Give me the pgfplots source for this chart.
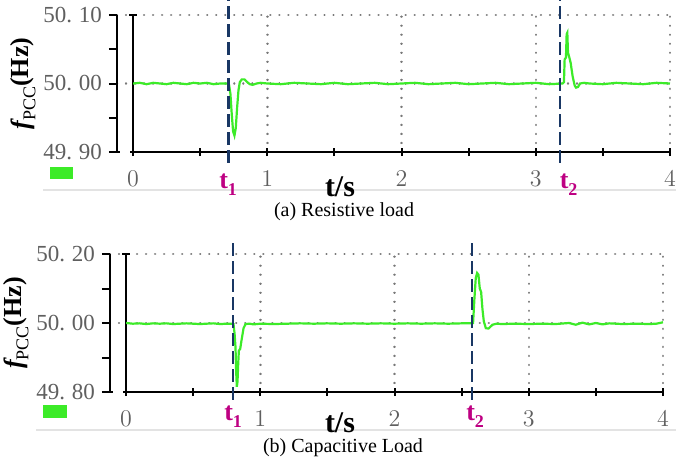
\documentclass[border=0pt]{standalone}
\usepackage{fontspec}
\setmainfont{Liberation Serif}
\usepackage{pgfplots}
\pgfplotsset{compat=1.18}
\definecolor{sig}{RGB}{60,235,40}
\definecolor{dashblue}{RGB}{25,55,100}
\definecolor{mag}{RGB}{190,0,130}
\definecolor{tickgray}{RGB}{95,95,95}
\definecolor{dotgray}{RGB}{120,120,120}
\newcommand{\yl}[2]{#1.\hspace{0.3em}#2}
\pgfplotsset{
  osc/.style={
    scale only axis, width=276.5pt, clip=false,
    xmin=-0.12, xmax=4,
    axis x line=bottom, axis y line=left,
    axis line style={-, black, line width=1pt},
    xtick={0,1,2,3,4}, minor xtick={0.5,1.5,2.5,3.5},
    xtick align=center, ytick align=outside,
    major tick length=4pt, minor tick length=4pt,
    every tick/.style={black, line width=1pt},
    xmajorgrids, ymajorgrids,
    major grid style={dotgray, line width=1.2pt, dash pattern=on 0.01pt off 4.5pt, line cap=round},
    tick label style={font=\fontsize{11.5}{12}\selectfont, text=tickgray},
    xticklabel style={yshift=-4pt},
    ylabel={\fontsize{13}{15}\selectfont\bfseries\itshape f\raisebox{-0.25em}{\upshape\mdseries\fontsize{9}{9}\selectfont PCC}\upshape(Hz)},
    every axis y label/.style={at={(axis description cs:-0.17,0.5)}, rotate=90, anchor=center},
    tline/.style={dashblue, line width=1.4pt, dash pattern=on 6.5pt off 2.5pt},
  }
}
\begin{document}
\begin{tikzpicture}
\path[use as bounding box] (0,0) rectangle (340.5pt,231pt);
% faint frame lines
\draw[gray!22, line width=0.6pt] (21.5pt,136pt) -- (338pt,136pt);
\draw[gray!22, line width=0.6pt] (18pt,16pt) -- (338pt,16pt);
% legend swatches
\fill[sig] (25pt,141.5pt) rectangle (36.5pt,147.5pt);
\fill[sig] (21.5pt,22pt) rectangle (33.5pt,28.5pt);

% ---------------- (a) ----------------
\begin{axis}[osc, at={(58.5pt,155pt)}, anchor=south west, height=68.5pt,
  ymin=49.9, ymax=50.1,
  ytick={49.9,50,50.1}, minor ytick={49.95,50.05},
  yticklabels={\yl{49}{90},\yl{50}{00},\yl{50}{10}}]
\addplot[black, line width=1.1pt] coordinates {(0,49.9) (0,50.1)};
\addplot[black, line width=1.1pt] coordinates {(-0.03,50.1) (0.03,50.1)};
\addplot[sig, line width=1.1pt] coordinates {
(0,50.000) (0.05,50.001) (0.10,49.999) (0.15,50.001) (0.20,50.000) (0.25,49.999)
(0.30,50.001) (0.35,50.000) (0.40,49.999) (0.45,50.001) (0.50,50.000) (0.55,50.001)
(0.60,49.999) (0.65,50.000) (0.70,50.000) (0.715,49.998) (0.725,49.985) (0.735,49.955)
(0.745,49.930) (0.755,49.924) (0.765,49.935) (0.775,49.965) (0.785,49.990) (0.795,50.002)
(0.81,50.006) (0.83,50.006) (0.85,50.002) (0.87,49.999) (0.89,49.998) (0.92,50.000)
(0.95,50.001) (1.0,50.000) (1.1,49.999) (1.2,50.001) (1.3,50.000) (1.4,49.999)
(1.5,50.001) (1.6,49.999) (1.7,50.000) (1.8,50.001) (1.9,49.999) (2.0,50.000)
(2.1,50.001) (2.2,49.999) (2.3,50.000) (2.4,50.001) (2.5,49.999) (2.6,50.000)
(2.7,50.001) (2.8,49.999) (2.9,50.000) (3.0,50.001) (3.1,49.999) (3.2,50.000)
(3.21,50.002) (3.215,50.035) (3.225,50.038) (3.23,50.072) (3.235,50.074) (3.24,50.045)
(3.25,50.038) (3.26,50.030) (3.275,50.010) (3.29,49.997) (3.30,49.994) (3.315,49.995)
(3.33,50.000) (3.36,50.001) (3.4,50.000) (3.5,49.999) (3.6,50.001) (3.7,50.000)
(3.8,49.999) (3.9,50.001) (4.0,50.000)};
\addplot[tline] coordinates {(0.708,49.884) (0.708,50.125)};
\addplot[tline] coordinates {(3.18,49.884) (3.18,50.125)};
\node[mag, anchor=north, font=\fontsize{13}{14}\selectfont\bfseries, inner sep=0pt] at (axis cs:0.708,49.9) [yshift=-10.5pt] {t\raisebox{-0.3em}{\fontsize{9}{9}\selectfont 1}};
\node[mag, anchor=north, font=\fontsize{13}{14}\selectfont\bfseries, inner sep=0pt] at (axis cs:3.245,49.9) [yshift=-10.5pt] {t\raisebox{-0.3em}{\fontsize{9}{9}\selectfont 2}};
\end{axis}
\fill[white] (60pt,154pt) rectangle (64.8pt,156pt);
\node[font=\fontsize{15}{16}\selectfont\bfseries, inner sep=0pt] at (170pt,137.5pt) {t/s};
\node[font=\fontsize{10}{12}\selectfont, anchor=base, inner sep=0pt] at (172pt,123pt) {(a) Resistive load};

% ---------------- (b) ----------------
\begin{axis}[osc, at={(55pt,35pt)}, anchor=south west, height=69pt,
  ymin=49.8, ymax=50.2,
  ytick={49.8,50,50.2}, minor ytick={49.9,50.1},
  yticklabels={\yl{49}{80},\yl{50}{00},\yl{50}{20}}]
\addplot[black, line width=1.1pt] coordinates {(0,49.8) (0,50.2)};
\addplot[black, line width=1.1pt] coordinates {(-0.03,50.2) (0.03,50.2)};
\addplot[sig, line width=1.1pt] coordinates {
(0,50.000) (0.05,49.998) (0.10,49.999) (0.15,49.997) (0.20,49.999) (0.25,49.998)
(0.30,49.999) (0.35,49.997) (0.40,49.998) (0.45,49.999) (0.50,49.998) (0.55,49.997)
(0.60,49.998) (0.65,49.999) (0.70,49.997) (0.75,49.998) (0.79,49.998) (0.80,49.997)
(0.808,49.970) (0.815,49.930) (0.82,49.860) (0.825,49.815) (0.83,49.830) (0.835,49.880)
(0.84,49.920) (0.85,49.925) (0.86,49.950) (0.875,49.985) (0.89,49.997) (0.92,49.998)
(0.95,49.996) (1.0,49.998) (1.1,49.997) (1.2,49.998) (1.3,49.999) (1.4,49.998)
(1.5,49.999) (1.6,49.998) (1.7,49.999) (1.8,49.998) (1.9,49.999) (2.0,49.998)
(2.1,49.999) (2.2,49.998) (2.3,49.999) (2.4,49.998) (2.5,49.999) (2.58,49.999)
(2.585,50.000) (2.595,50.070) (2.605,50.130) (2.615,50.145) (2.625,50.140) (2.635,50.100)
(2.645,50.090) (2.655,50.040) (2.665,50.005) (2.68,49.985) (2.70,49.984) (2.73,49.995)
(2.76,49.998) (2.8,49.997) (2.9,49.998) (3.0,49.997) (3.1,49.998) (3.2,49.997)
(3.3,50.000) (3.35,49.995) (3.4,50.001) (3.45,49.996) (3.5,50.000) (3.55,49.996)
(3.6,49.999) (3.7,49.997) (3.8,49.998) (3.9,49.997) (3.95,49.998) (4.0,50.002)};
\addplot[tline] coordinates {(0.797,49.777) (0.797,50.232)};
\addplot[tline] coordinates {(2.577,49.777) (2.577,50.232)};
\node[mag, anchor=north, font=\fontsize{13}{14}\selectfont\bfseries, inner sep=0pt] at (axis cs:0.797,49.8) [yshift=-6.5pt] {t\raisebox{-0.3em}{\fontsize{9}{9}\selectfont 1}};
\node[mag, anchor=north, font=\fontsize{13}{14}\selectfont\bfseries, inner sep=0pt] at (axis cs:2.6,49.8) [yshift=-6.5pt] {t\raisebox{-0.3em}{\fontsize{9}{9}\selectfont 2}};
\end{axis}
\fill[white] (56.5pt,34pt) rectangle (61.3pt,36pt);
\node[font=\fontsize{15}{16}\selectfont\bfseries, inner sep=0pt] at (170pt,19.5pt) {t/s};
\node[font=\fontsize{10}{12}\selectfont, anchor=base, inner sep=0pt] at (171.5pt,5pt) {(b) Capacitive Load};
\end{tikzpicture}
\end{document}
